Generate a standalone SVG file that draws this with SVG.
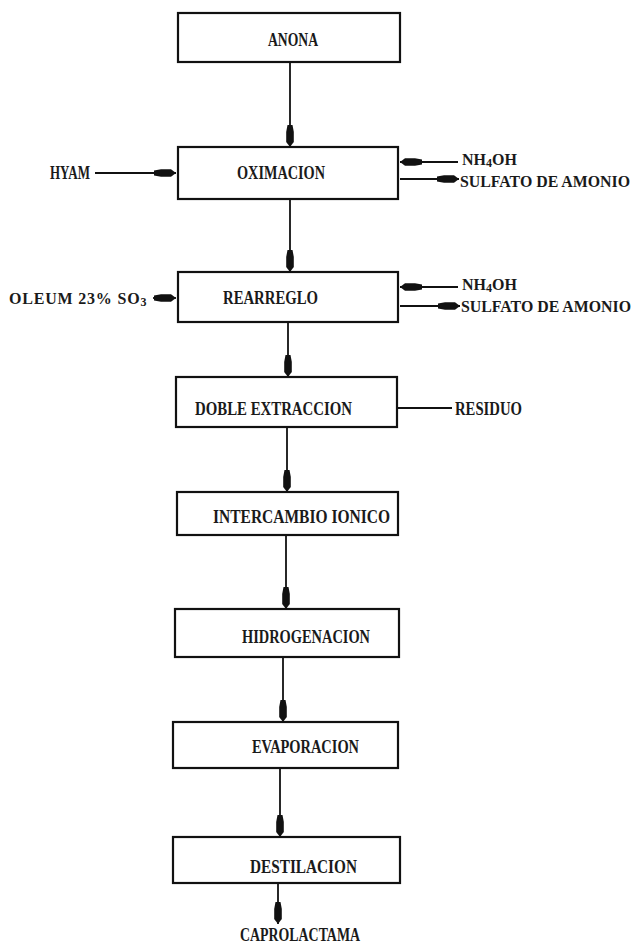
<svg xmlns="http://www.w3.org/2000/svg" width="634" height="946" viewBox="0 0 634 946">
<defs>
<style>
.box{fill:none;stroke:#111;stroke-width:2.2}
.ln{fill:none;stroke:#111;stroke-width:1.8}
text{font-family:"Liberation Serif","Times New Roman",serif;font-size:18px;font-weight:bold;fill:#1a1a1a}
.sm{font-size:16px}
.sub{font-size:12px}
</style>
<marker id="ah" markerUnits="userSpaceOnUse" viewBox="-24 -5 26 10" refX="0" refY="0" markerWidth="26" markerHeight="10" orient="auto">
<path d="M-22,-2.5 L-15,-3.8 L-5,-3.8 L0,0 L-5,3.8 L-15,3.8 L-22,2.5 Z" fill="#111"/>
</marker>
</defs>
<rect width="634" height="946" fill="#fff"/>
<g id="connectors">
<line class="ln" x1="290" y1="62" x2="290" y2="147" marker-end="url(#ah)"/>
<line class="ln" x1="290" y1="199" x2="290" y2="272" marker-end="url(#ah)"/>
<line class="ln" x1="288" y1="322" x2="288" y2="377" marker-end="url(#ah)"/>
<line class="ln" x1="287" y1="427" x2="287" y2="492" marker-end="url(#ah)"/>
<line class="ln" x1="286" y1="535" x2="286" y2="609" marker-end="url(#ah)"/>
<line class="ln" x1="283" y1="657" x2="283" y2="722" marker-end="url(#ah)"/>
<line class="ln" x1="280" y1="768" x2="280" y2="837" marker-end="url(#ah)"/>
<line class="ln" x1="278" y1="883" x2="278" y2="924" marker-end="url(#ah)"/>
<line class="ln" x1="95" y1="173" x2="176" y2="173" marker-end="url(#ah)"/>
<line class="ln" x1="458" y1="162" x2="400" y2="162" marker-end="url(#ah)"/>
<line class="ln" x1="400" y1="179" x2="459" y2="179" marker-end="url(#ah)"/>
<line class="ln" x1="153" y1="298" x2="176" y2="298" marker-end="url(#ah)"/>
<line class="ln" x1="458" y1="287" x2="400" y2="287" marker-end="url(#ah)"/>
<line class="ln" x1="400" y1="306" x2="460" y2="306" marker-end="url(#ah)"/>
<line class="ln" x1="397" y1="408" x2="452" y2="408"/>
</g>
<g id="anona"><rect class="box" x="178" y="13" width="222" height="49"/><text x="268" y="46" textLength="50" lengthAdjust="spacingAndGlyphs">ANONA</text></g>
<g id="oximacion"><rect class="box" x="178" y="147" width="220" height="52"/><text x="237" y="179" textLength="88" lengthAdjust="spacingAndGlyphs">OXIMACION</text></g>
<g id="rearreglo"><rect class="box" x="178" y="272" width="220" height="50"/><text x="223" y="304" textLength="95" lengthAdjust="spacingAndGlyphs">REARREGLO</text></g>
<g id="doble-extraccion"><rect class="box" x="176" y="377" width="221" height="50"/><text x="195" y="415" textLength="157" lengthAdjust="spacingAndGlyphs">DOBLE EXTRACCION</text></g>
<g id="intercambio-ionico"><rect class="box" x="177" y="492" width="221" height="43"/><text x="213" y="523" textLength="177" lengthAdjust="spacingAndGlyphs">INTERCAMBIO IONICO</text></g>
<g id="hidrogenacion"><rect class="box" x="175" y="609" width="224" height="48"/><text x="242" y="643" textLength="128" lengthAdjust="spacingAndGlyphs">HIDROGENACION</text></g>
<g id="evaporacion"><rect class="box" x="173" y="722" width="225" height="46"/><text x="252" y="753" textLength="107" lengthAdjust="spacingAndGlyphs">EVAPORACION</text></g>
<g id="destilacion"><rect class="box" x="173" y="837" width="227" height="46"/><text x="250" y="873" textLength="107" lengthAdjust="spacingAndGlyphs">DESTILACION</text></g>
<g id="labels">
<text x="50" y="179" textLength="40" lengthAdjust="spacingAndGlyphs">HYAM</text>
<text class="sm" x="462" y="165">NH<tspan class="sub" dy="2">4</tspan><tspan dy="-2">OH</tspan></text>
<text class="sm" x="460" y="187" textLength="170" lengthAdjust="spacingAndGlyphs">SULFATO DE AMONIO</text>
<text class="sm" x="9" y="304" letter-spacing="0.8">OLEUM 23% SO<tspan class="sub" dy="2">3</tspan></text>
<text class="sm" x="462" y="290">NH<tspan class="sub" dy="2">4</tspan><tspan dy="-2">OH</tspan></text>
<text class="sm" x="461" y="312" textLength="170" lengthAdjust="spacingAndGlyphs">SULFATO DE AMONIO</text>
<text x="455" y="415" textLength="67" lengthAdjust="spacingAndGlyphs">RESIDUO</text>
<text x="240" y="941" textLength="120" lengthAdjust="spacingAndGlyphs">CAPROLACTAMA</text>
</g>
</svg>
